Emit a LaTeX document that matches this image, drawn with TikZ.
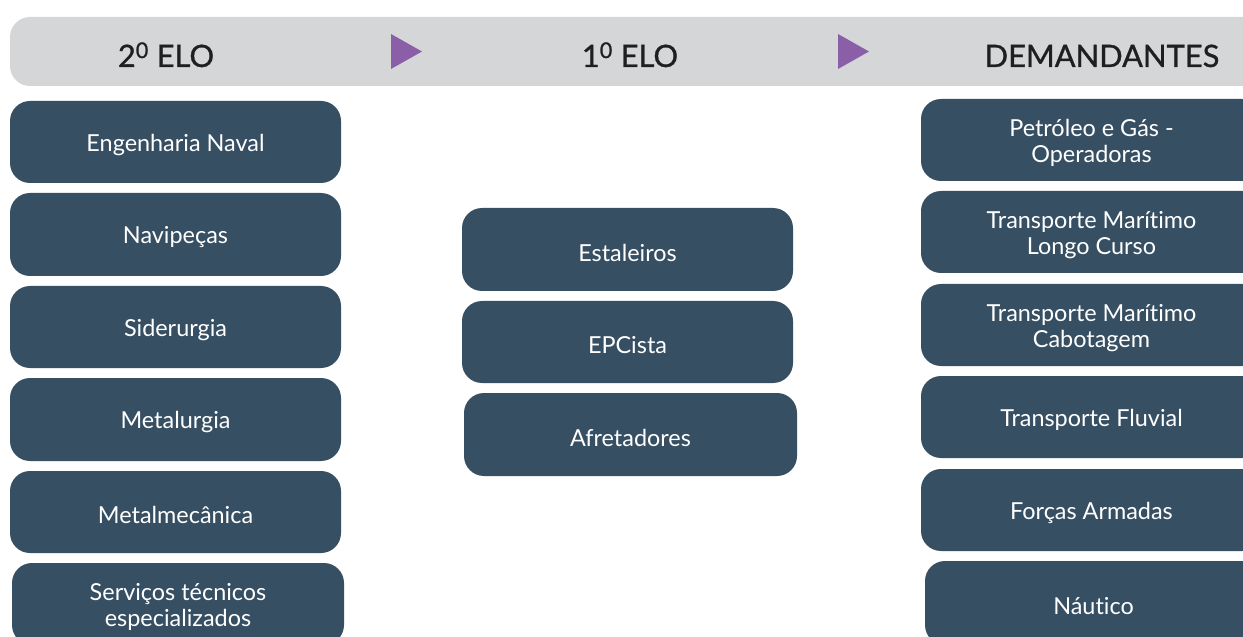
\documentclass[tikz,border=0pt]{standalone}
\usepackage{fontspec}
\setmainfont{Lato}[Ligatures={NoCommon}]
\newfontfamily\headfont[FakeBold=0.9]{Lato}
\definecolor{boxc}{HTML}{374F63}
\definecolor{barc}{HTML}{D5D6D8}
\definecolor{triC}{HTML}{8B5FA8}
\begin{document}
\begin{tikzpicture}[x=1bp,y=-1bp,
  item/.style={fill=boxc, rounded corners=20bp, text=white, align=center, font=\fontsize{23.5}{25.5}\selectfont, inner sep=0pt},
  head/.style={font=\headfont\fontsize{31}{36}\selectfont, text=black!88, inner sep=0pt, anchor=base},
  tri/.style={fill=triC}]
\useasboundingbox (0,0) rectangle (1243,637);
\clip (0,0) rectangle (1243,637);
% header bar
\fill[barc, rounded corners=20bp] (10,17) rectangle (1270,86);
\node[head] (h2) at (166,67) {2\textsuperscript{0} ELO};
\node[head] (h1) at (630,67) {1\textsuperscript{0} ELO};
\node[head] (hd) at (1102,67) {DEMANDANTES};
\fill[tri] (391,34) -- (422,51.5) -- (391,69) -- cycle;
\fill[tri] (838,34) -- (869,51.5) -- (838,69) -- cycle;
% boxes
\newcommand{\bx}[6]{\path[item] (#1,#2) rectangle (#3,#4) node[midway, yshift=-3bp] (#5) {#6};}
% left column
\bx{10}{101}{341}{183}{l1}{Engenharia Naval}
\bx{10}{193}{341}{276}{l2}{Navipeças}
\bx{10}{286}{341}{368}{l3}{Siderurgia}
\bx{10}{378}{341}{461}{l4}{Metalurgia}
\bx{10}{471}{341}{553}{l5}{Metalmecânica}
\bx{12}{563}{344}{645}{l6}{Serviços técnicos\\especializados}
% middle column
\bx{462}{208}{793}{291}{m1}{Estaleiros}
\bx{462}{301}{793}{383}{m2}{EPCista}
\bx{464}{393}{797}{476}{m3}{Afretadores}
% right column
\bx{921}{99}{1262}{181}{r1}{Petróleo e Gás -\\Operadoras}
\bx{921}{191}{1262}{273}{r2}{Transporte Marítimo\\Longo Curso}
\bx{921}{284}{1262}{366}{r3}{Transporte Marítimo\\Cabotagem}
\bx{921}{376}{1262}{458}{r4}{Transporte Fluvial}
\bx{921}{469}{1262}{551}{r5}{Forças Armadas}
\bx{925}{561}{1262}{645}{r6}{Náutico}
\end{tikzpicture}
\end{document}
